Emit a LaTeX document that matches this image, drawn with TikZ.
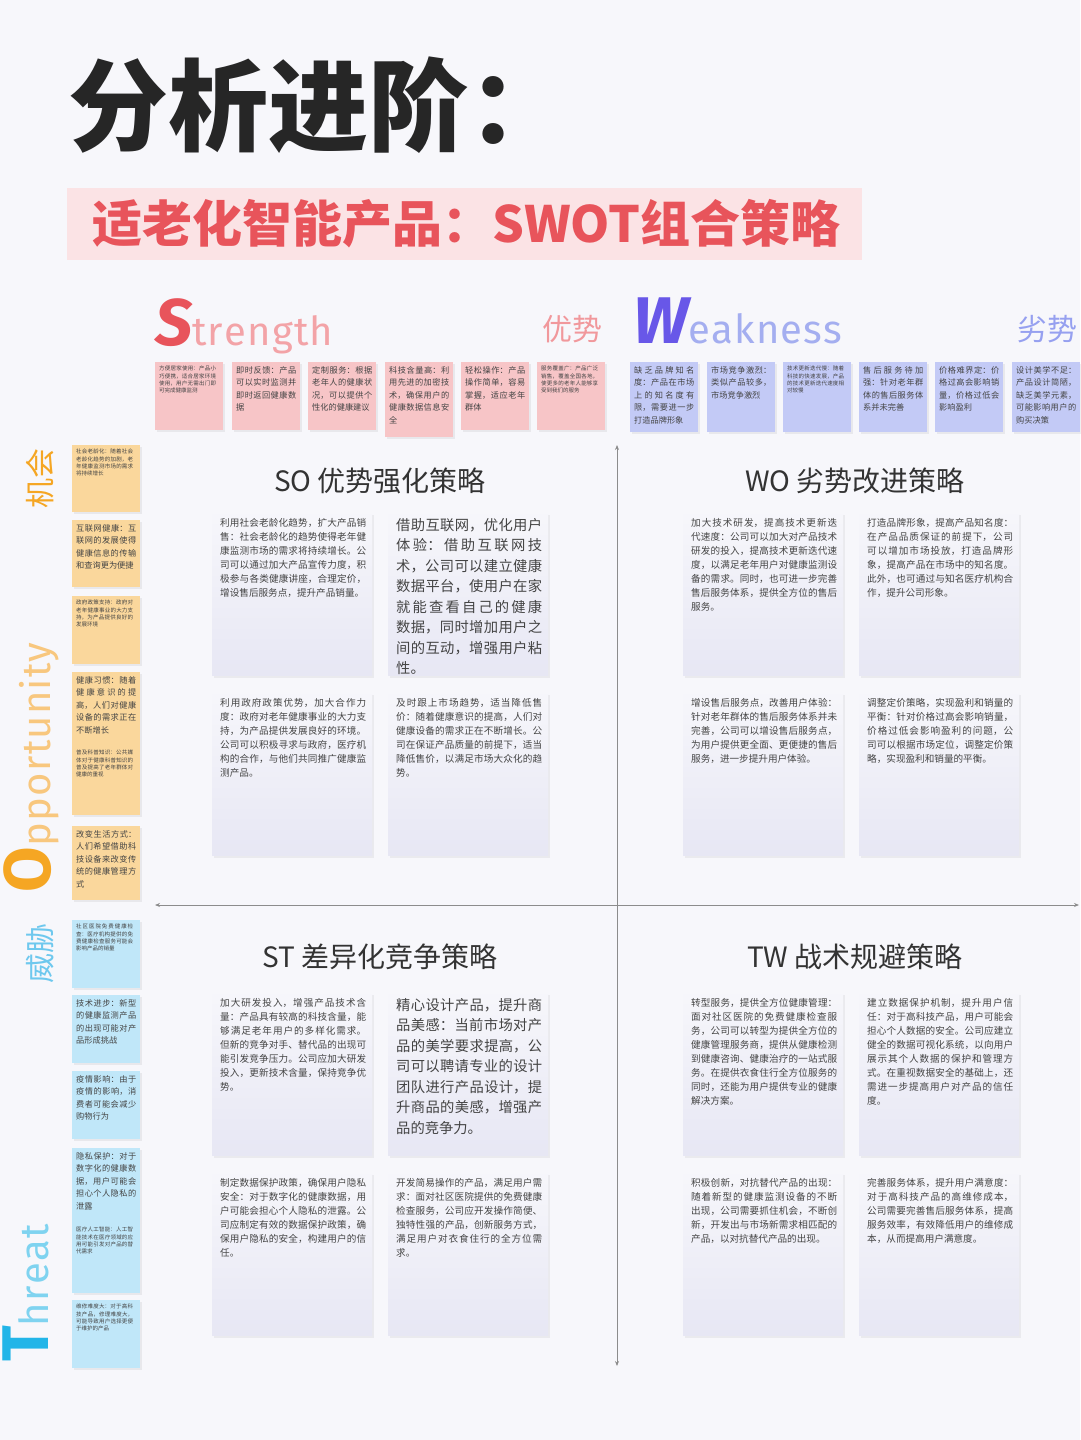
\documentclass[tikz,border=0pt]{standalone}
\usepackage{fontspec}
\setmainfont{Noto Sans CJK SC}
\newfontfamily\latf{Fira Sans}
\usetikzlibrary{shadows,arrows.meta}
\XeTeXlinebreaklocale "zh"
\XeTeXlinebreakskip=0pt plus 0.6pt
\definecolor{bg}{HTML}{F7F7FB}
\definecolor{banner}{HTML}{FBE3E5}
\definecolor{bannertxt}{HTML}{E8545B}
\definecolor{npink}{HTML}{F7C5C7}
\definecolor{nblue}{HTML}{C3CAF6}
\definecolor{norange}{HTML}{FAD79C}
\definecolor{ncyan}{HTML}{C0E7F9}
\definecolor{txt}{HTML}{444444}
\definecolor{cardtop}{HTML}{F1F1F8}
\definecolor{cardbot}{HTML}{E7E7F4}
\tikzset{
 notebox/.style={anchor=north west,inner sep=0,minimum width=68,drop shadow={opacity=0.12,shadow xshift=1.5pt,shadow yshift=-2pt}},
 tinytext/.style={anchor=north west,inner sep=0,text width=57,align=justify,font=\fontsize{5.5}{7.2}\selectfont,text=txt},
 bigtext/.style={anchor=north west,inner sep=0,text width=60,align=justify,font=\fontsize{8.2}{12.6}\selectfont,text=txt},
 cardbox/.style={anchor=north west,inner sep=0,minimum width=160,minimum height=163,top color=white!40!cardtop,bottom color=cardbot,draw=none,drop shadow={opacity=0.10,shadow xshift=2pt,shadow yshift=-3pt}},
 cardsmall/.style={anchor=north west,inner sep=0,text width=146,align=justify,font=\fontsize{9.6}{14}\selectfont,text=txt},
 cardbig/.style={anchor=north west,inner sep=0,text width=146,align=justify,font=\fontsize{14.3}{20.5}\selectfont,text=txt},
 qtitle/.style={font=\fontsize{28}{30}\selectfont,text=black!80},
 axisline/.style={draw=black!45,line width=0.8pt,{Stealth[length=5pt,width=4pt]}-{Stealth[length=5pt,width=4pt]}}
}
\newcommand\snote[6]{\node[notebox,fill=#5,minimum height=#4] (#1) at (#2,#3) {};}
\newcommand\ks{\kern1.2pt}
\begin{document}
\begin{tikzpicture}[x=1pt,y=-1pt]
\fill[bg] (0,0) rectangle (1080,1440);
\useasboundingbox (0,0) rectangle (1080,1440);
% title
\node[anchor=base west,inner sep=0,font=\fontsize{100}{100}\selectfont\bfseries,text=black!85] (title) at (68,143) {分析进阶：};
\node[anchor=north west,fill=banner,minimum width=795,minimum height=72,inner sep=0] (ban) at (67,188) {};
\node[anchor=west,inner sep=0,font=\fontsize{50}{50}\selectfont\bfseries,text=bannertxt] (bantxt) at (92,224) {适老化智能产品：SWOT组合策略};
% S / W headers
\node[anchor=base west,inner sep=0,font=\latf] (shead) at (155,345) {\color{bannertxt}\fontsize{66}{66}\selectfont\bfseries\itshape S\color{npink!70!bannertxt}\fontsize{40}{40}\selectfont\mdseries\upshape t\ks r\ks e\ks n\ks g\ks t\ks h};
\node[anchor=base east,inner sep=0,font=\fontsize{30}{30}\selectfont,text=npink!60!bannertxt] (sadv) at (603,340) {优势};
\node[anchor=base west,inner sep=0,font=\latf] (whead) at (633,343) {\color[HTML]{6857E8}\fontsize{66}{66}\selectfont\bfseries\itshape W\color[HTML]{A4AEF0}\fontsize{40}{40}\selectfont\mdseries\upshape e\ks a\ks k\ks n\ks e\ks s\ks s};
\node[anchor=base east,inner sep=0,font=\fontsize{30}{30}\selectfont,text={rgb,255:red,150;green,160;blue,240}] (wdis) at (1078,340) {劣势};
% strength notes
\snote{s1}{155}{362}{68}{npink}{}
\snote{s2}{232}{362}{68}{npink}{}
\snote{s3}{308}{362}{68}{npink}{}
\snote{s4}{385}{362}{75}{npink}{}
\snote{s5}{461}{362}{68}{npink}{}
\snote{s6}{537}{362}{68}{npink}{}
\node[tinytext] at ([xshift=4,yshift=-4]s1.north west) {方便居家使用：产品小巧便携，适合居家环境使用，用户无需出门即可完成健康监测};
\node[bigtext] at ([xshift=4,yshift=-4]s2.north west) {即时反馈：产品可以实时监测并即时返回健康数据};
\node[bigtext] at ([xshift=4,yshift=-4]s3.north west) {定制服务：根据老年人的健康状况，可以提供个性化的健康建议};
\node[bigtext] at ([xshift=4,yshift=-4]s4.north west) {科技含量高：利用先进的加密技术，确保用户的健康数据信息安全};
\node[bigtext] at ([xshift=4,yshift=-4]s5.north west) {轻松操作：产品操作简单，容易掌握，适应老年群体};
\node[tinytext] at ([xshift=4,yshift=-4]s6.north west) {服务覆盖广：产品广泛销售，覆盖全国各地，使更多的老年人能够享受到我们的服务};
% weakness notes
\snote{w1}{630}{362}{70}{nblue}{}
\snote{w2}{707}{362}{70}{nblue}{}
\snote{w3}{783}{362}{70}{nblue}{}
\snote{w4}{859}{362}{70}{nblue}{}
\snote{w5}{935}{362}{70}{nblue}{}
\snote{w6}{1012}{362}{70}{nblue}{}
\node[bigtext] at ([xshift=4,yshift=-4]w1.north west) {缺乏品牌知名度：产品在市场上的知名度有限，需要进一步打造品牌形象};
\node[bigtext] at ([xshift=4,yshift=-4]w2.north west) {市场竞争激烈：类似产品较多，市场竞争激烈};
\node[tinytext] at ([xshift=4,yshift=-4]w3.north west) {技术更新迭代慢：随着科技的快速发展，产品的技术更新迭代速度相对较慢};
\node[bigtext] at ([xshift=4,yshift=-4]w4.north west) {售后服务待加强：针对老年群体的售后服务体系并未完善};
\node[bigtext] at ([xshift=4,yshift=-4]w5.north west) {价格难界定：价格过高会影响销量，价格过低会影响盈利};
\node[bigtext] at ([xshift=4,yshift=-4]w6.north west) {设计美学不足：产品设计简陋，缺乏美学元素，可能影响用户的购买决策};
% left labels
\node[rotate=90,anchor=center,inner sep=0,font=\fontsize{30}{30}\selectfont,text={rgb,255:red,245;green,166;blue,35}] (oppcn) at (40,478) {机会};
\node[rotate=90,anchor=base west,inner sep=0,font=\latf] (opp) at (50,893) {\color[HTML]{F5A623}\fontsize{66}{66}\selectfont\bfseries O\color[HTML]{F8C77E}\fontsize{40}{40}\selectfont\mdseries\ks p\ks p\ks o\ks r\ks t\ks u\ks n\ks i\ks t\ks y};
\node[rotate=90,anchor=center,inner sep=0,font=\fontsize{30}{30}\selectfont,text={rgb,255:red,110;green,200;blue,238}] (thrcn) at (40,953) {威胁};
\node[rotate=90,anchor=base west,inner sep=0,font=\latf] (thr) at (48,1362) {\color[HTML]{22B5E8}\fontsize{66}{66}\selectfont\bfseries T\color[HTML]{7FD3F0}\fontsize{40}{40}\selectfont\mdseries h\ks r\ks e\ks a\ks t};
% opportunity notes
\snote{o1}{72}{445}{67}{norange}{}
\snote{o2}{72}{520}{67}{norange}{}
\snote{o3}{72}{596}{68}{norange}{}
\snote{o4}{72}{672}{143}{norange}{}
\snote{o5}{72}{826}{74}{norange}{}
\node[tinytext] at ([xshift=4,yshift=-4]o1.north west) {社会老龄化：随着社会老龄化趋势的加剧，老年健康监测市场的需求将持续增长};
\node[bigtext] at ([xshift=4,yshift=-4]o2.north west) {互联网健康：互联网的发展使得健康信息的传输和查询更为便捷};
\node[tinytext] at ([xshift=4,yshift=-4]o3.north west) {政府政策支持：政府对老年健康事业的大力支持，为产品提供良好的发展环境};
\node[bigtext] at ([xshift=4,yshift=-4]o4.north west) {健康习惯：随着健康意识的提高，人们对健康设备的需求正在不断增长};
\node[tinytext] at ([xshift=4,yshift=-78]o4.north west) {普及科普知识：公共媒体对于健康科普知识的普及提高了老年群体对健康的重视};
\node[bigtext] at ([xshift=4,yshift=-4]o5.north west) {改变生活方式：人们希望借助科技设备来改变传统的健康管理方式};
% threat notes
\snote{t1}{72}{920}{68}{ncyan}{}
\snote{t2}{72}{995}{68}{ncyan}{}
\snote{t3}{72}{1071}{68}{ncyan}{}
\snote{t4}{72}{1148}{145}{ncyan}{}
\snote{t5}{72}{1300}{68}{ncyan}{}
\node[tinytext] at ([xshift=4,yshift=-4]t1.north west) {社区医院免费健康检查：医疗机构提供的免费健康检查服务可能会影响产品的销量};
\node[bigtext] at ([xshift=4,yshift=-4]t2.north west) {技术进步：新型的健康监测产品的出现可能对产品形成挑战};
\node[bigtext] at ([xshift=4,yshift=-4]t3.north west) {疫情影响：由于疫情的影响，消费者可能会减少购物行为};
\node[bigtext] at ([xshift=4,yshift=-4]t4.north west) {隐私保护：对于数字化的健康数据，用户可能会担心个人隐私的泄露};
\node[tinytext] at ([xshift=4,yshift=-79]t4.north west) {医疗人工智能：人工智能技术在医疗领域的应用可能引发对产品的替代需求};
\node[tinytext] at ([xshift=4,yshift=-4]t5.north west) {维修难度大：对于高科技产品，修理难度大，可能导致用户选择更便于维护的产品};
% axes
\coordinate (vtop) at (617,445);
\coordinate (vbot) at (617,1366);
\coordinate (hl) at (155,905);
\coordinate (hr) at (1079,905);
\draw[axisline] (vtop) -- (vbot);
\draw[axisline] (hl) -- (hr);
% quadrant titles
\node[qtitle] (so) at (380,481) {SO 优势强化策略};
\node[qtitle] (wo) at (855,481) {WO 劣势改进策略};
\node[qtitle] (st) at (380,957) {ST 差异化竞争策略};
\node[qtitle] (tw) at (855,957) {TW 战术规避策略};
% SO cards
\node[cardbox] (so1) at (212,512) {};
\node[cardbox] (so2) at (388,512) {};
\node[cardbox] (so3) at (212,692) {};
\node[cardbox] (so4) at (388,692) {};
\node[cardsmall] at ([xshift=8,yshift=-6]so1.north west) {利用社会老龄化趋势，扩大产品销售：社会老龄化的趋势使得老年健康监测市场的需求将持续增长。公司可以通过加大产品宣传力度，积极参与各类健康讲座，合理定价，增设售后服务点，提升产品销量。};
\node[cardbig] at ([xshift=8,yshift=-6]so2.north west) {借助互联网，优化用户体验：借助互联网技术，公司可以建立健康数据平台，使用户在家就能查看自己的健康数据，同时增加用户之间的互动，增强用户粘性。};
\node[cardsmall] at ([xshift=8,yshift=-6]so3.north west) {利用政府政策优势，加大合作力度：政府对老年健康事业的大力支持，为产品提供发展良好的环境。公司可以积极寻求与政府，医疗机构的合作，与他们共同推广健康监测产品。};
\node[cardsmall] at ([xshift=8,yshift=-6]so4.north west) {及时跟上市场趋势，适当降低售价：随着健康意识的提高，人们对健康设备的需求正在不断增长。公司在保证产品质量的前提下，适当降低售价，以满足市场大众化的趋势。};
% WO cards
\node[cardbox] (wo1) at (683,512) {};
\node[cardbox] (wo2) at (859,512) {};
\node[cardbox] (wo3) at (683,692) {};
\node[cardbox] (wo4) at (859,692) {};
\node[cardsmall] at ([xshift=8,yshift=-6]wo1.north west) {加大技术研发，提高技术更新迭代速度：公司可以加大对产品技术研发的投入，提高技术更新迭代速度，以满足老年用户对健康监测设备的需求。同时，也可进一步完善售后服务体系，提供全方位的售后服务。};
\node[cardsmall] at ([xshift=8,yshift=-6]wo2.north west) {打造品牌形象，提高产品知名度：在产品品质保证的前提下，公司可以增加市场投放，打造品牌形象，提高产品在市场中的知名度。此外，也可通过与知名医疗机构合作，提升公司形象。};
\node[cardsmall] at ([xshift=8,yshift=-6]wo3.north west) {增设售后服务点，改善用户体验：针对老年群体的售后服务体系并未完善，公司可以增设售后服务点，为用户提供更全面、更便捷的售后服务，进一步提升用户体验。};
\node[cardsmall] at ([xshift=8,yshift=-6]wo4.north west) {调整定价策略，实现盈利和销量的平衡：针对价格过高会影响销量，价格过低会影响盈利的问题，公司可以根据市场定位，调整定价策略，实现盈利和销量的平衡。};
% ST cards
\node[cardbox] (st1) at (212,992) {};
\node[cardbox] (st2) at (388,992) {};
\node[cardbox] (st3) at (212,1172) {};
\node[cardbox] (st4) at (388,1172) {};
\node[cardsmall] at ([xshift=8,yshift=-6]st1.north west) {加大研发投入，增强产品技术含量：产品具有较高的科技含量，能够满足老年用户的多样化需求。但新的竞争对手、替代品的出现可能引发竞争压力。公司应加大研发投入，更新技术含量，保持竞争优势。};
\node[cardbig] at ([xshift=8,yshift=-6]st2.north west) {精心设计产品，提升商品美感：当前市场对产品的美学要求提高，公司可以聘请专业的设计团队进行产品设计，提升商品的美感，增强产品的竞争力。};
\node[cardsmall] at ([xshift=8,yshift=-6]st3.north west) {制定数据保护政策，确保用户隐私安全：对于数字化的健康数据，用户可能会担心个人隐私的泄露。公司应制定有效的数据保护政策，确保用户隐私的安全，构建用户的信任。};
\node[cardsmall] at ([xshift=8,yshift=-6]st4.north west) {开发简易操作的产品，满足用户需求：面对社区医院提供的免费健康检查服务，公司应开发操作简便、独特性强的产品，创新服务方式，满足用户对衣食住行的全方位需求。};
% TW cards
\node[cardbox] (tw1) at (683,992) {};
\node[cardbox] (tw2) at (859,992) {};
\node[cardbox] (tw3) at (683,1172) {};
\node[cardbox] (tw4) at (859,1172) {};
\node[cardsmall] at ([xshift=8,yshift=-6]tw1.north west) {转型服务，提供全方位健康管理：面对社区医院的免费健康检查服务，公司可以转型为提供全方位的健康管理服务商，提供从健康检测到健康咨询、健康治疗的一站式服务。在提供衣食住行全方位服务的同时，还能为用户提供专业的健康解决方案。};
\node[cardsmall] at ([xshift=8,yshift=-6]tw2.north west) {建立数据保护机制，提升用户信任：对于高科技产品，用户可能会担心个人数据的安全。公司应建立健全的数据可视化系统，以向用户展示其个人数据的保护和管理方式。在重视数据安全的基础上，还需进一步提高用户对产品的信任度。};
\node[cardsmall] at ([xshift=8,yshift=-6]tw3.north west) {积极创新，对抗替代产品的出现：随着新型的健康监测设备的不断出现，公司需要抓住机会，不断创新，开发出与市场新需求相匹配的产品，以对抗替代产品的出现。};
\node[cardsmall] at ([xshift=8,yshift=-6]tw4.north west) {完善服务体系，提升用户满意度：对于高科技产品的高维修成本，公司需要完善售后服务体系，提高服务效率，有效降低用户的维修成本，从而提高用户满意度。};
\end{tikzpicture}
\end{document}
